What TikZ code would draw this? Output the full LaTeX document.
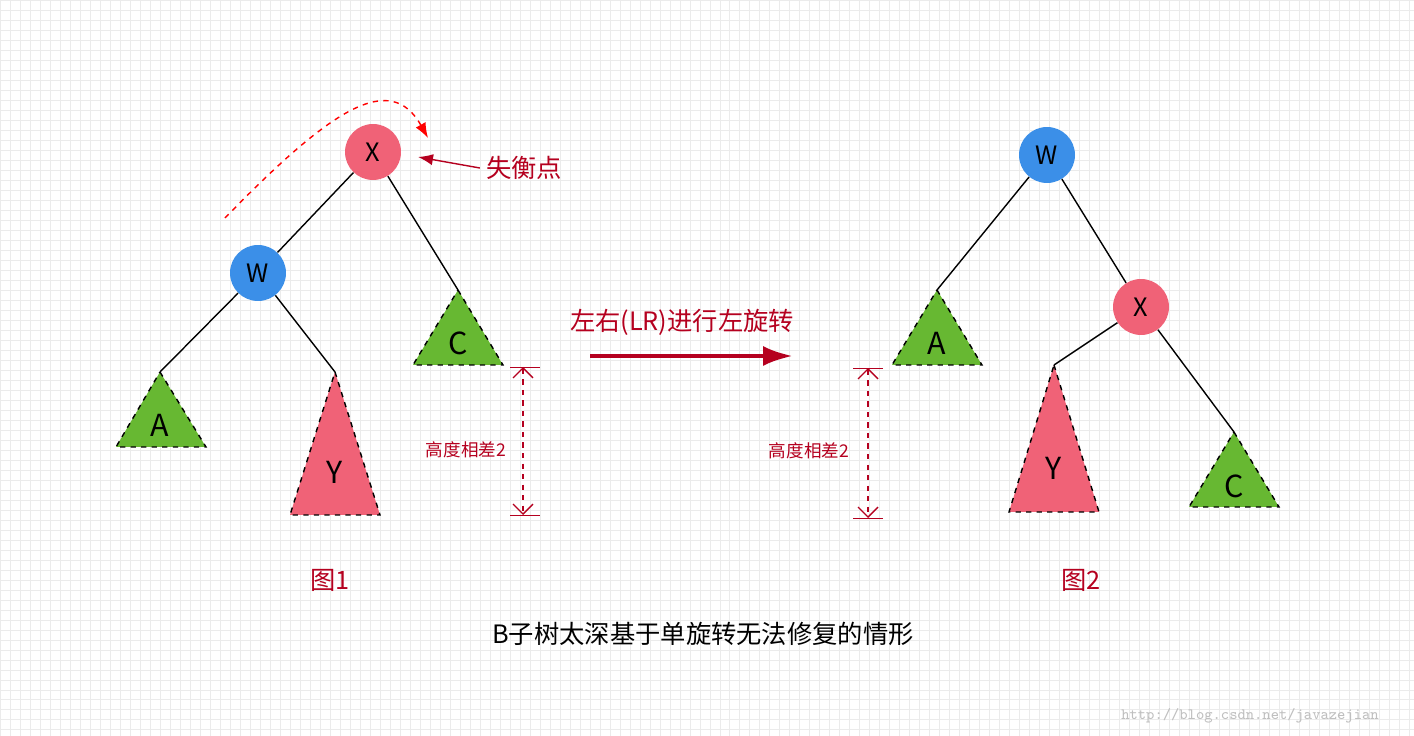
\documentclass[tikz,border=0pt]{standalone}
\usepackage{fontspec}
\setmainfont{Noto Sans CJK SC}
\usetikzlibrary{arrows.meta}
\definecolor{nodepink}{HTML}{F06277}
\definecolor{nodeblue}{HTML}{3B8FE8}
\definecolor{subgreen}{HTML}{67B832}
\definecolor{darkred}{HTML}{B5001F}
\tikzset{
  treenode/.style={circle, minimum size=1.12cm, inner sep=0pt, font=\Large},
  tri/.style={draw=black, dashed, thick},
  edge/.style={thick},
  heightlabel/.style={darkred, font=\normalsize},
}
\begin{document}
\begin{tikzpicture}[x=0.02cm, y=-0.02cm]
    \useasboundingbox (0, 0) rectangle (1414, 736);
    \fill[white] (0, 0) rectangle (1414, 736);
    \draw[black!8, step=0.2cm] (0, 0) grid (1414, 736);
    % left tree
    \node[treenode, fill=nodepink] (x1) at (373, 152) {X};
    \node[treenode, fill=nodeblue] (w1) at (258, 273) {W};
    \coordinate (a1) at (160, 372);
    \coordinate (y1) at (335, 372);
    \coordinate (c1) at (458, 290);
    \filldraw[tri, fill=subgreen] (a1) -- (206, 447) -- (116, 447) -- cycle;
    \filldraw[tri, fill=nodepink] (y1) -- (380, 515) -- (290, 515) -- cycle;
    \filldraw[tri, fill=subgreen] (c1) -- (503, 365) -- (413, 365) -- cycle;
    \node[font=\LARGE] at (160, 425) {A};
    \node[font=\LARGE] at (335, 472) {Y};
    \node[font=\LARGE] at (458, 343) {C};
    \draw[edge] (x1) -- (w1);
    \draw[edge] (x1) -- (c1);
    \draw[edge] (w1) -- (a1);
    \draw[edge] (w1) -- (y1);
    \draw[red, thick, dashed, -{Latex[length=3mm]}] (225, 218) .. controls (330, 110) and (390, 70) .. (428, 138);
    \node[darkred, font=\Large] (lost) at (524, 168) {失衡点};
    \draw[darkred, thick, -{Latex[length=3mm]}] (lost.west) -- (418, 157);
    % height marker left
    \draw[darkred] (510, 367) -- (540, 367);
    \draw[darkred] (510, 515) -- (540, 515);
    \draw[darkred, dashed, thick, {Straight Barb[length=2mm]}-{Straight Barb[length=2mm]}] (523, 367) -- (523, 515);
    \node[heightlabel] at (466, 450) {高度相差2};
    % rotation arrow
    \draw[darkred, line width=2.5pt, -{Latex[length=6mm, width=4mm]}] (590, 356) -- (793, 356);
    \node[darkred, font=\Large] at (682, 322) {左右(LR)进行左旋转};
    % right tree
    \node[treenode, fill=nodeblue] (w2) at (1047, 155) {W};
    \node[treenode, fill=nodepink] (x2) at (1141, 307) {X};
    \coordinate (a2) at (937, 290);
    \coordinate (y2) at (1054, 365);
    \coordinate (c2) at (1234, 432);
    \filldraw[tri, fill=subgreen] (a2) -- (982, 365) -- (892, 365) -- cycle;
    \filldraw[tri, fill=nodepink] (y2) -- (1099, 512) -- (1009, 512) -- cycle;
    \filldraw[tri, fill=subgreen] (c2) -- (1279, 507) -- (1189, 507) -- cycle;
    \node[font=\LARGE] at (937, 343) {A};
    \node[font=\LARGE] at (1054, 468) {Y};
    \node[font=\LARGE] at (1234, 486) {C};
    \draw[edge] (w2) -- (a2);
    \draw[edge] (w2) -- (x2);
    \draw[edge] (x2) -- (y2);
    \draw[edge] (x2) -- (c2);
    % height marker right
    \draw[darkred] (853, 368) -- (883, 368);
    \draw[darkred] (853, 518) -- (883, 518);
    \draw[darkred, dashed, thick, {Straight Barb[length=2mm]}-{Straight Barb[length=2mm]}] (868, 368) -- (868, 518);
    \node[heightlabel] at (809, 451) {高度相差2};
    % captions
    \node[darkred, font=\Large] at (330, 580) {图1};
    \node[darkred, font=\Large] at (1081, 580) {图2};
    \node[font=\Large] at (703, 634) {B子树太深基于单旋转无法修复的情形};
    \node[black!25, font=\ttfamily\small] at (1250, 716) {http://blog.csdn.net/javazejian};
\end{tikzpicture}
\end{document}
